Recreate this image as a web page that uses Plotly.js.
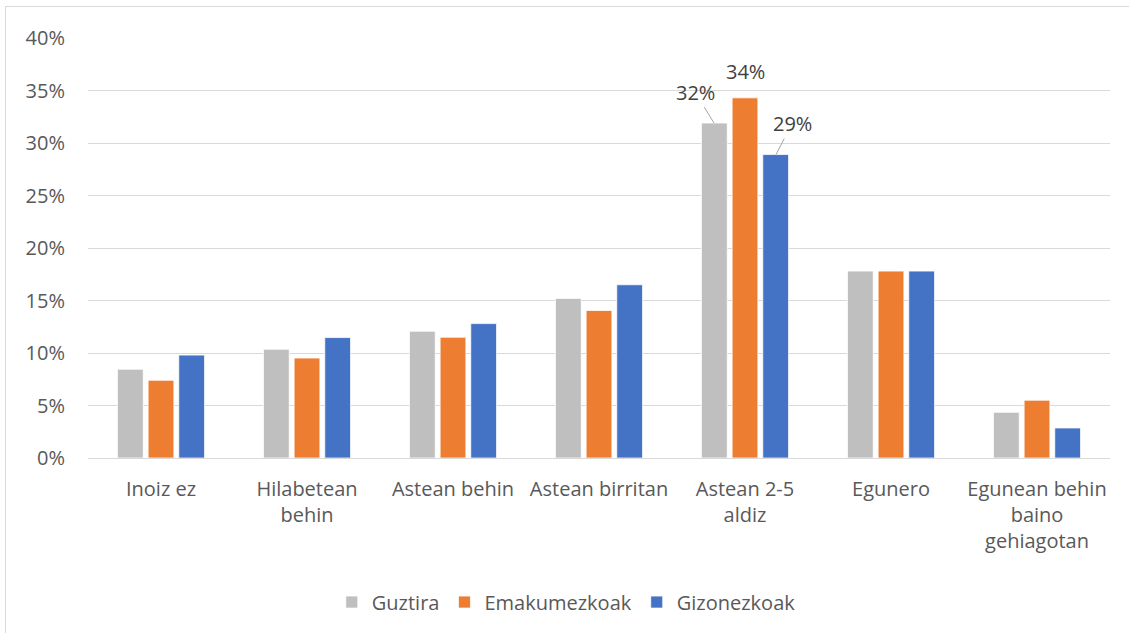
<!DOCTYPE html>
<html>
<head>
<meta charset="utf-8">
<script src="https://cdn.plot.ly/plotly-3.0.1.min.js"></script>
<style>
  html, body { margin: 0; padding: 0; background: #fff; overflow: hidden; }
  #chart { width: 1129px; height: 633px; }
  #frame { position: absolute; left: 5px; top: 6px; width: 1300px; height: 800px; border: 1px solid #d9d9d9; pointer-events: none; }
</style>
</head>
<body>
<div id="chart"></div>
<div id="frame"></div>
<script>
const categories = ["Inoiz ez", "Hilabetean<br>behin", "Astean behin", "Astean birritan", "Astean 2-5<br>aldiz", "Egunero", "Egunean behin<br>baino<br>gehiagotan"];
const guztira = [0.0845, 0.1035, 0.1207, 0.152, 0.319, 0.178, 0.0435];
const emakumezkoak = [0.074, 0.0952, 0.115, 0.1405, 0.343, 0.178, 0.055];
const gizonezkoak = [0.098, 0.1147, 0.128, 0.165, 0.289, 0.178, 0.0286];
const seriesNames = ["Guztira", "Emakumezkoak", "Gizonezkoak"];
const colors = ["#bfbfbf", "#ed7d31", "#4472c4"];
const yTicks = [0, 0.05, 0.10, 0.15, 0.20, 0.25, 0.30, 0.35, 0.40];

const font = "'Open Sans', sans-serif";
const vals = [guztira, emakumezkoak, gizonezkoak];
const traces = vals.map((v, i) => ({
  type: "bar",
  name: seriesNames[i],
  x: categories,
  y: v,
  marker: { color: colors[i], line: { color: "#ffffff", width: 0.75 } },
  hoverinfo: "x+y+name"
}));

const hi = 4; // "Astean 2-5 aldiz"
const annotations = [
  { x: categories[hi], y: guztira[hi], xshift: -31, text: Math.round(guztira[hi]*100) + "%", ax: -19, ay: -31, arrowcolor: "#a6a6a6" },
  { x: categories[hi], y: emakumezkoak[hi], xshift: 0, text: Math.round(emakumezkoak[hi]*100) + "%", ax: 0, ay: -26, arrowcolor: "rgba(0,0,0,0)" },
  { x: categories[hi], y: gizonezkoak[hi], xshift: 31, text: Math.round(gizonezkoak[hi]*100) + "%", ax: 16, ay: -31, arrowcolor: "#a6a6a6" }
].map(a => Object.assign({
  xref: "x", yref: "y", showarrow: true, arrowhead: 0, arrowwidth: 1, standoff: 0,
  font: { family: font, size: 20, color: "#404040" }
}, a));

const layout = {
  width: 1129, height: 633,
  margin: { l: 88, r: 19, t: 38, b: 175 },
  paper_bgcolor: "#ffffff", plot_bgcolor: "#ffffff",
  font: { family: font, size: 20, color: "#595959" },
  barmode: "group",
  bargap: 0.37,
  bargroupgap: 0.16,
  showlegend: true,
  legend: {
    orientation: "h", x: 0.468, xanchor: "center", y: -0.343, yanchor: "middle",
    font: { family: font, size: 20, color: "#595959" },
    itemwidth: 30, traceorder: "normal"
  },
  xaxis: {
    type: "category",
    showgrid: false, showline: false, zeroline: false,
    ticks: "", ticklabelstandoff: 17,
    tickfont: { family: font, size: 20, color: "#595959" },
    fixedrange: true
  },
  yaxis: {
    range: [0, 0.40],
    tickvals: yTicks,
    tickformat: ".0%",
    showgrid: true, gridcolor: "#d9d9d9", gridwidth: 1,
    zeroline: true, zerolinecolor: "#d9d9d9", zerolinewidth: 1,
    showline: false, ticks: "", ticklabelstandoff: 22,
    tickfont: { family: font, size: 20, color: "#595959" },
    fixedrange: true
  },
  annotations: annotations
};

Plotly.newPlot("chart", traces, layout, { displayModeBar: false, staticPlot: true });
</script>
</body>
</html>
